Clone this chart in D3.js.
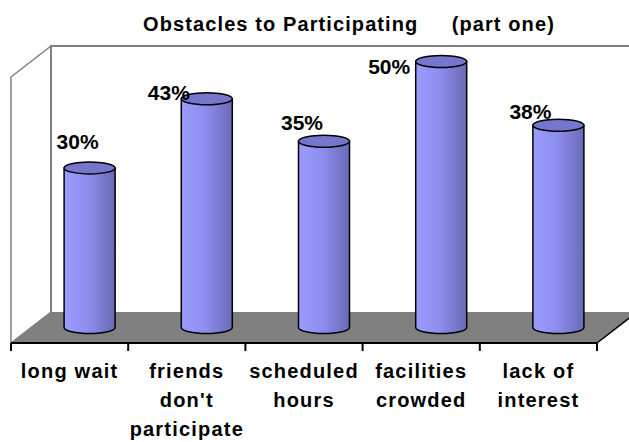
<!DOCTYPE html>
<html>
<head>
<meta charset="utf-8">
<script src="https://cdn.jsdelivr.net/npm/d3@7"></script>
<style>
  body { margin: 0; background: #fff; }
  svg { display: block; font-family: "Liberation Sans", Arial, sans-serif; }
</style>
</head>
<body>
<svg id="chart" width="629" height="442"></svg>
<script>
// chart data
var categories = ["long wait", "friends\ndon't\nparticipate", "scheduled\nhours", "facilities\ncrowded", "lack of\ninterest"];
var values = [30, 43, 35, 50, 38];
var yTicks = [0, 50];   // axis extent (no tick labels shown)
var title = "Obstacles to Participating     (part one)";

var svg = d3.select("#chart");

// front plane of the 3d box and the depth offset
var plotLeft = 11, plotRight = 597, plotBottom = 343, plotTop = 77;
var depthX = 40, depthY = 31;

var x = d3.scaleBand().domain(categories).range([plotLeft, plotRight]).paddingInner(0).paddingOuter(0);
var y = d3.scaleLinear().domain(d3.extent(yTicks)).range([plotBottom, plotTop]);

/*
 * walls and floor
 */
var wallColor = "#808080";
// side wall
svg.append("path")
    .attr("d", "M" + plotLeft + "," + y(50) + " L" + (plotLeft + depthX) + "," + (y(50) - depthY) +
               " L" + (plotLeft + depthX) + "," + (y(0) - depthY) + " L" + plotLeft + "," + y(0) + " Z")
    .attr("fill", "#fff").attr("stroke", wallColor).attr("stroke-width", 1.5);
// back wall (right side runs past the window)
svg.append("path")
    .attr("d", "M" + (plotLeft + depthX) + "," + (y(0) - depthY) + " L" + (plotLeft + depthX) + "," + (y(50) - depthY) +
               " L" + (plotRight + depthX + 10) + "," + (y(50) - depthY))
    .attr("fill", "none").attr("stroke", wallColor).attr("stroke-width", 2);
// floor
svg.append("path")
    .attr("d", "M" + plotLeft + "," + y(0) + " L" + (plotLeft + depthX) + "," + (y(0) - depthY) +
               " L" + (plotRight + depthX) + "," + (y(0) - depthY) + " L" + plotRight + "," + y(0) + " Z")
    .attr("fill", wallColor).attr("stroke", "none");
svg.append("line")
    .attr("x1", plotRight).attr("y1", y(0)).attr("x2", plotRight + depthX).attr("y2", y(0) - depthY)
    .attr("stroke", "#000").attr("stroke-width", 1.5);

// axis line with ticks at the category boundaries
var tickXs = categories.map(function(d) { return x(d); }).concat([plotRight]);
svg.append("line")
    .attr("x1", plotLeft).attr("x2", plotRight).attr("y1", y(0)).attr("y2", y(0))
    .attr("stroke", "#000").attr("stroke-width", 2);
svg.selectAll(".tick").data(tickXs).enter().append("line")
    .attr("class", "tick")
    .attr("x1", function(d) { return d; }).attr("x2", function(d) { return d; })
    .attr("y1", y(0)).attr("y2", y(0) + 8)
    .attr("stroke", "#000").attr("stroke-width", 2);

/*
 * cylinders, placed half way into the depth
 */
var grad = svg.append("defs").append("linearGradient")
    .attr("id", "cyl").attr("x1", "0%").attr("x2", "100%").attr("y1", "0%").attr("y2", "0%");
grad.append("stop").attr("offset", "0%").attr("stop-color", "#9c9cff");
grad.append("stop").attr("offset", "45%").attr("stop-color", "#8e8ef0");
grad.append("stop").attr("offset", "100%").attr("stop-color", "#6a6ab6");

var rx = 25.5, ry = 6;
var cx = function(d, i) { return x(categories[i]) + x.bandwidth() / 2 + depthX / 2; };
var yMid = function(v) { return y(v) - depthY / 2; };

var bars = svg.selectAll(".bar").data(values).enter().append("g").attr("class", "bar");
bars.append("path")
    .attr("d", function(d, i) {
        var c = cx(d, i), t = yMid(d), b = yMid(0);
        return "M" + (c - rx) + "," + t + " L" + (c - rx) + "," + b +
               " A" + rx + "," + ry + " 0 0 0 " + (c + rx) + "," + b +
               " L" + (c + rx) + "," + t + " Z";
    })
    .attr("fill", "url(#cyl)").attr("stroke", "#000").attr("stroke-width", 1.5);
bars.append("ellipse")
    .attr("cx", cx).attr("cy", function(d) { return yMid(d); })
    .attr("rx", rx).attr("ry", ry)
    .attr("fill", "#7676cc").attr("stroke", "#000").attr("stroke-width", 1.5);

// value labels drift left / down as the bar grows (as in the original)
var labelDx = d3.scaleLinear().domain([30, 50]).range([-12, -52]);
var labelDy = d3.scaleLinear().domain([30, 50]).range([-19, 12]);
svg.selectAll(".val").data(values).enter().append("text")
    .attr("class", "val")
    .attr("x", function(d, i) { return cx(d, i) + labelDx(d); })
    .attr("y", function(d) { return yMid(d) + labelDy(d); })
    .attr("text-anchor", "middle")
    .attr("font-size", 21).attr("font-weight", "bold").attr("fill", "#000")
    .text(function(d) { return d + "%"; });

// category labels
var catText = svg.selectAll(".cat").data(categories).enter().append("text")
    .attr("class", "cat")
    .attr("text-anchor", "middle")
    .attr("font-size", 20).attr("font-weight", "bold").attr("letter-spacing", 1.2)
    .attr("fill", "#000");
catText.selectAll("tspan").data(function(d) { return d.split("\n"); }).enter().append("tspan")
    .attr("x", function() { var c = d3.select(this.parentNode).datum(); return x(c) + x.bandwidth() / 2; })
    .attr("y", function(d, i) { return 378 + i * 29; })
    .text(function(d) { return d; });

// title
svg.append("text")
    .attr("x", 349).attr("y", 31)
    .attr("text-anchor", "middle")
    .attr("font-size", 20).attr("font-weight", "bold").attr("letter-spacing", 1.1)
    .style("white-space", "pre")
    .text(title);
</script>
</body>
</html>
